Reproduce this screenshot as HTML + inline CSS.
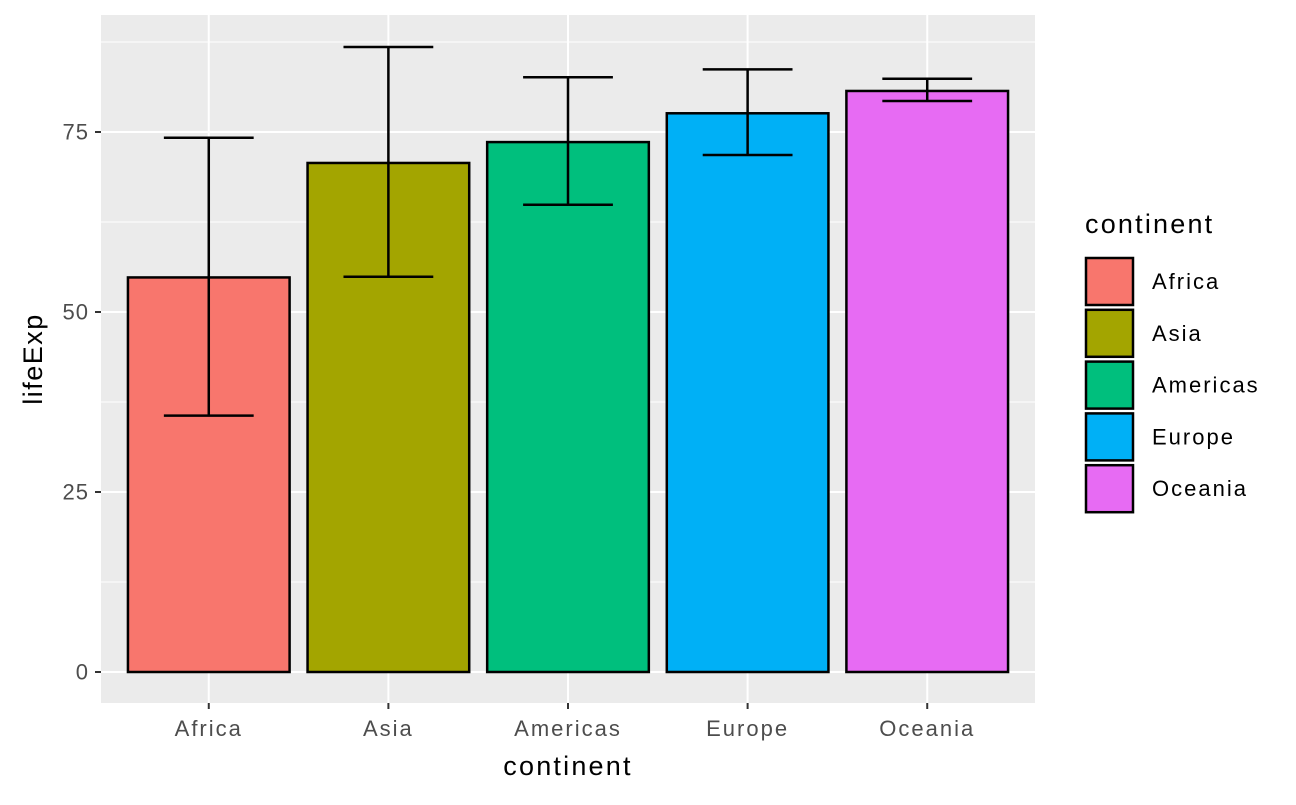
<!DOCTYPE html>
<html><head><meta charset="utf-8"><style>
body{margin:0;background:#fff}
svg text{font-family:"Liberation Sans",Arial,sans-serif}
</style></head><body>
<svg id="chart" width="1296" height="800" xmlns="http://www.w3.org/2000/svg"></svg>
<script>
const categories=["Africa","Asia","Americas","Europe","Oceania"];
const means=[54.8,70.7,73.6,77.6,80.7];
const upper=[74.2,86.8,82.6,83.7,82.4];
const lower=[35.6,54.9,64.9,71.8,79.3];
const colors=["#F8766D","#A3A500","#00BF7D","#00B0F6","#E76BF3"];
const yTicks=[0,25,50,75];
const NS="http://www.w3.org/2000/svg";
const svg=document.getElementById('chart');
const L=101,R=1035,T=15,B=703;
const y=v=>672-v*7.2;
const step=(R-L)/5.2;
const x=i=>L+step*(0.6+i);
function el(t,a,p){const e=document.createElementNS(NS,t);for(const k in a)e.setAttribute(k,a[k]);(p||svg).appendChild(e);return e;}
const panel=el('rect',{x:L,y:T,width:R-L,height:B-T,fill:'#EBEBEB'});


for(let i=0;i<yTicks.length;i++){const v=yTicks[i]+12.5;if(y(v)>T)el('line',{x1:L,x2:R,y1:y(v),y2:y(v),stroke:'#fff','stroke-width':1});}
yTicks.forEach(v=>{
 el('line',{x1:L,x2:R,y1:y(v),y2:y(v),stroke:'#fff','stroke-width':2});
 el('line',{x1:95,x2:101,y1:y(v),y2:y(v),stroke:'#333','stroke-width':2});
 const t=el('text',{x:89,y:y(v)+7.5,'text-anchor':'end','font-size':22,'letter-spacing':1,fill:'#4D4D4D'});t.textContent=v;
 
 
});
categories.forEach((c,i)=>{
 el('line',{x1:x(i),x2:x(i),y1:T,y2:B,stroke:'#fff','stroke-width':2});
});
const bw=step*0.9,ew=step*0.5;
categories.forEach((c,i)=>{
 const b=el('rect',{x:x(i)-bw/2,y:y(means[i]),width:bw,height:y(0)-y(means[i]),fill:colors[i],stroke:'#000','stroke-width':2.5});
 
 
 const g=el('g',{stroke:'#000','stroke-width':2.5,fill:'none'});
 
 
 el('line',{x1:x(i),x2:x(i),y1:y(upper[i]),y2:y(lower[i])},g);
 el('line',{x1:x(i)-ew/2,x2:x(i)+ew/2,y1:y(upper[i]),y2:y(upper[i])},g);
 el('line',{x1:x(i)-ew/2,x2:x(i)+ew/2,y1:y(lower[i]),y2:y(lower[i])},g);
 el('line',{x1:x(i),x2:x(i),y1:B,y2:B+6,stroke:'#333','stroke-width':2});
 const t=el('text',{x:x(i),y:736,'text-anchor':'middle','font-size':22,'letter-spacing':2,fill:'#4D4D4D'});t.textContent=c;
 
 
});
let t=el('text',{x:568,y:775,'text-anchor':'middle','font-size':27,'letter-spacing':2.2,fill:'#000'});t.textContent='continent';


t=el('text',{x:0,y:0,'text-anchor':'middle','font-size':27,'letter-spacing':1.5,fill:'#000',transform:'translate(42,359) rotate(-90)'});t.textContent='lifeExp';


t=el('text',{x:1085,y:233,'font-size':27,'letter-spacing':2.2,fill:'#000'});t.textContent='continent';


categories.forEach((c,i)=>{
 const g=el('g',{});
 
 
 el('rect',{x:1086,y:258+i*51.8,width:47,height:47,fill:colors[i],stroke:'#000','stroke-width':2.5},g);
 const tt=el('text',{x:1152,y:289+i*51.8,'font-size':22,'letter-spacing':2,fill:'#000'},g);tt.textContent=c;
});
</script>
</body></html>
